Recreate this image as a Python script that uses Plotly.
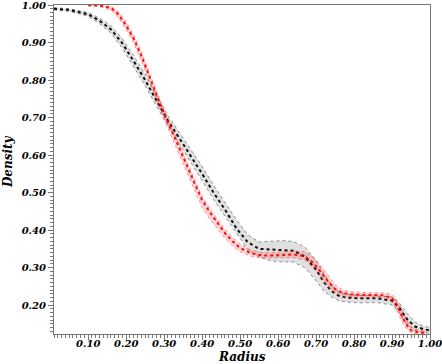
from plotly import graph_objs as go

# black profile: radius, lower edge, core, upper edge
black_x = [0.01, 0.05, 0.10, 0.13, 0.16, 0.19, 0.22, 0.25, 0.28, 0.31, 0.34, 0.37,
           0.40, 0.43, 0.46, 0.49, 0.52, 0.55, 0.58, 0.61, 0.64, 0.67, 0.70, 0.72,
           0.74, 0.76, 0.78, 0.82, 0.86, 0.90, 0.92, 0.94, 0.96, 0.98, 1.00]
black_mid = [0.990, 0.987, 0.975, 0.958, 0.935, 0.898, 0.850, 0.800, 0.745, 0.692, 0.645, 0.598,
             0.550, 0.500, 0.455, 0.405, 0.368, 0.350, 0.348, 0.348, 0.345, 0.330, 0.295, 0.262,
             0.238, 0.225, 0.220, 0.218, 0.218, 0.212, 0.192, 0.162, 0.143, 0.137, 0.132]
black_hi = [0.993, 0.990, 0.980, 0.965, 0.945, 0.910, 0.865, 0.815, 0.760, 0.705, 0.660, 0.615,
            0.570, 0.520, 0.475, 0.428, 0.388, 0.368, 0.370, 0.372, 0.370, 0.355, 0.320, 0.285,
            0.255, 0.235, 0.228, 0.226, 0.226, 0.222, 0.205, 0.178, 0.155, 0.145, 0.140]
black_lo = [0.987, 0.983, 0.970, 0.950, 0.925, 0.885, 0.835, 0.785, 0.730, 0.678, 0.630, 0.582,
            0.532, 0.482, 0.437, 0.390, 0.348, 0.328, 0.318, 0.315, 0.315, 0.300, 0.265, 0.238,
            0.222, 0.212, 0.208, 0.206, 0.207, 0.200, 0.178, 0.148, 0.133, 0.128, 0.125]

# red profile
red_x = [0.10, 0.13, 0.16, 0.18, 0.20, 0.22, 0.24, 0.26, 0.28, 0.30, 0.32, 0.34, 0.36,
         0.38, 0.40, 0.42, 0.44, 0.46, 0.48, 0.50, 0.53, 0.56, 0.60, 0.64, 0.67, 0.69,
         0.71, 0.73, 0.75, 0.77, 0.80, 0.84, 0.88, 0.90, 0.91, 0.92, 0.93, 0.94, 0.95,
         0.97, 0.99]
red_mid = [1.000, 0.999, 0.992, 0.975, 0.945, 0.910, 0.865, 0.810, 0.760, 0.710, 0.665, 0.618, 0.572,
           0.525, 0.480, 0.448, 0.420, 0.392, 0.370, 0.352, 0.338, 0.332, 0.333, 0.335, 0.330, 0.315,
           0.292, 0.265, 0.243, 0.232, 0.228, 0.226, 0.226, 0.218, 0.205, 0.185, 0.162, 0.145, 0.133,
           0.127, 0.126]
red_hi = [1.000, 1.000, 0.996, 0.982, 0.955, 0.920, 0.875, 0.820, 0.770, 0.720, 0.675, 0.628, 0.582,
          0.535, 0.490, 0.458, 0.430, 0.402, 0.380, 0.362, 0.346, 0.340, 0.341, 0.345, 0.342, 0.330,
          0.308, 0.280, 0.255, 0.240, 0.235, 0.233, 0.233, 0.228, 0.218, 0.200, 0.178, 0.158, 0.142,
          0.133, 0.131]
red_lo = [0.997, 0.996, 0.986, 0.966, 0.934, 0.898, 0.852, 0.798, 0.746, 0.695, 0.648, 0.600, 0.552,
          0.505, 0.460, 0.430, 0.404, 0.378, 0.358, 0.342, 0.330, 0.325, 0.326, 0.327, 0.320, 0.302,
          0.278, 0.250, 0.232, 0.224, 0.221, 0.219, 0.219, 0.208, 0.192, 0.170, 0.148, 0.134, 0.126,
          0.122, 0.122]

x_ticks = [0.1, 0.2, 0.3, 0.4, 0.5, 0.6, 0.7, 0.8, 0.9, 1.0]
y_ticks = [0.2, 0.3, 0.4, 0.5, 0.6, 0.7, 0.8, 0.9, 1.0]

fig = go.Figure()


def add_band(x, lo, mid, hi, core, haze, edge):
    # lower edge, then upper edge filled down to it, then dense core
    fig.add_trace(go.Scatter(x=x, y=lo, mode='lines',
                             line=dict(color=edge, width=1, dash='dot'),
                             hoverinfo='skip', showlegend=False))
    fig.add_trace(go.Scatter(x=x, y=hi, mode='lines', fill='tonexty', fillcolor=haze,
                             line=dict(color=edge, width=1, dash='dot'),
                             hoverinfo='skip', showlegend=False))
    fig.add_trace(go.Scatter(x=x, y=mid, mode='lines',
                             line=dict(color=core, width=2, dash='dot'),
                             showlegend=False))


add_band(black_x, black_lo, black_mid, black_hi,
         'rgba(0,0,0,0.95)', 'rgba(0,0,0,0.12)', 'rgba(60,60,60,0.55)')
add_band(red_x, red_lo, red_mid, red_hi,
         'rgba(255,0,0,0.95)', 'rgba(255,0,0,0.15)', 'rgba(255,60,60,0.55)')

tick_font = dict(family='DejaVu Serif', size=10, color='black', weight='bold', style='italic')
title_font = dict(family='DejaVu Serif', size=12, color='black', weight='bold', style='italic')

fig.update_layout(width=442, height=364,
                  margin=dict(l=54, r=12, t=5, b=30),
                  plot_bgcolor='white', paper_bgcolor='white',
                  showlegend=False)
axis_style = dict(tickformat='.2f', tickfont=tick_font, showgrid=False, zeroline=False,
                  automargin=False, ticklabeloverflow='allow',
                  showline=True, linecolor='#777777', linewidth=1, mirror=True,
                  ticks='outside', ticklen=5, tickcolor='#777777',
                  minor=dict(dtick=0.01, tick0=0, ticks='outside', ticklen=3, tickcolor='#777777'))
fig.update_xaxes(range=[0.01, 1.0], tickvals=x_ticks, ticklabelstandoff=-5, **axis_style)
fig.update_yaxes(range=[0.123, 1.0], tickvals=y_ticks, **axis_style)

# axis titles
fig.add_annotation(text='Radius', font=title_font, showarrow=False,
                   xref='paper', yref='paper', x=0.5, y=-0.071, xanchor='center', yanchor='middle')
fig.add_annotation(text='Density', font=title_font, showarrow=False, textangle=-90,
                   xref='paper', yref='paper', x=-0.122, y=0.523, xanchor='center', yanchor='middle')

fig.write_html("out.html", config={'displayModeBar': False},
               post_script="document.body.style.margin='0';")
